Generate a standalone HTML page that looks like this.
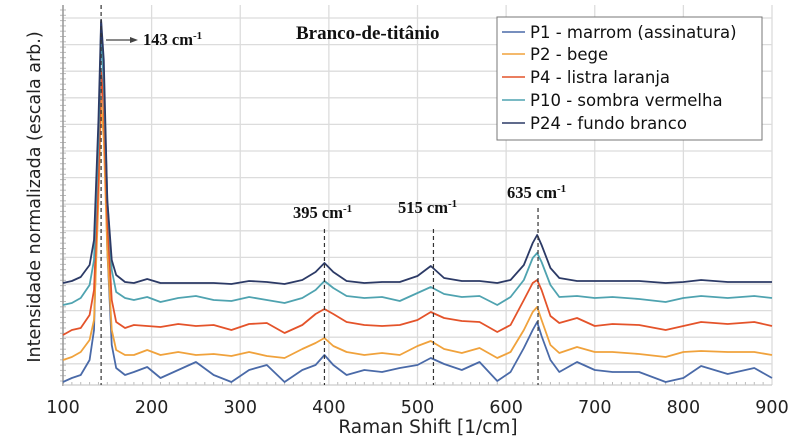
<!DOCTYPE html>
<html><head><meta charset="utf-8"><style>
body{margin:0;background:#fff;width:800px;height:437px;overflow:hidden}
svg{display:block}
.tk{font-family:"DejaVu Sans","Liberation Sans",sans-serif;font-size:17.5px;fill:#222}
.an{font-family:"Liberation Serif",serif;font-weight:bold;font-size:16.5px;fill:#111}
.lg{font-family:"DejaVu Sans","Liberation Sans",sans-serif;font-size:16.5px;fill:#111}
</style></head><body>
<svg id="chart" width="800" height="437"></svg>
<script>
const xs=[100,110,120,130,135,140,143,146,150,155,160,170,180,195,210,230,250,270,290,310,330,350,370,385,395,405,420,440,460,480,500,515,530,550,570,590,605,620,630,635,640,650,660,680,700,720,750,780,800,820,850,880,900];
const p24=[102,104,108,120,145,265,365,325,185,125,110,103,102,106,102,102,102,102,101,104,103,101,105,113,122,113,104,102,103,103,109,119,107,104,104,102,105,120,142,150,140,117,107,104,104,104,104,102,103,105,103,103,103];
const p10=[80,82,87,100,125,245,355,305,185,115,93,87,85,88,83,87,89,85,84,88,85,82,87,95,104,97,89,87,88,84,92,98,91,88,89,80,88,105,127,132,123,100,88,89,87,88,86,83,87,89,87,89,87];
const p4=[50,55,57,70,95,205,313,275,165,85,63,57,60,59,58,61,59,60,55,61,62,52,60,71,76,71,63,60,59,60,65,73,67,64,63,53,60,85,102,105,95,69,62,67,59,61,60,55,59,63,61,63,59];
const p2=[25,28,33,45,65,185,285,245,135,55,35,30,30,35,30,33,30,31,29,33,29,27,36,42,47,39,33,30,32,30,39,44,36,32,37,27,33,55,73,78,65,40,32,38,33,33,31,28,33,34,33,33,30];
const p1=[3,7,10,25,55,225,363,295,135,40,17,10,13,18,7,15,23,10,3,15,20,3,15,20,30,20,10,15,13,17,20,27,21,15,23,4,13,37,55,63,49,25,13,23,15,13,13,3,7,19,11,17,7];
const xTicks=[100,200,300,400,500,600,700,800,900];
const peakXs=[143,395,518,636];
const names=["P1 - marrom (assinatura)","P2 - bege","P4 - listra laranja","P10 - sombra vermelha","P24 - fundo branco"];
const colors=["#4a6aa8","#f0a23c","#e4532a","#4fa3b0","#2c3a66"];
const series=[p1,p2,p4,p10,p24];
const NS="http://www.w3.org/2000/svg";
const svg=document.getElementById('chart');
const X=v=>63+(v-100)*(772-63)/800;
const Y=v=>385-v;
function el(t,a,p){const e=document.createElementNS(NS,t);for(const k in a)e.setAttribute(k,a[k]);(p||svg).appendChild(e);return e;}
for(let i=0;i<14;i++){const y=18+i*26.6;const g=el('line',{x1:63,x2:772,y1:y,y2:y,stroke:'#dcdcdc','stroke-width':1.3});

}
xTicks.forEach(t=>{const g=el('line',{x1:X(t),x2:X(t),y1:5,y2:385,stroke:'#dcdcdc','stroke-width':1.3});


const tx=el('text',{x:X(t),y:413,'text-anchor':'middle',class:'tk'});tx.textContent=t;

});
for(let v=110;v<900;v+=10){if(v%100)el('line',{x1:X(v),x2:X(v),y1:385,y2:382,stroke:'#bbb'});}
for(let y=10;y<385;y+=5.3)el('line',{x1:60,x2:66,y1:y,y2:y,stroke:'#bbb'});
const ax=el('line',{x1:63,x2:63,y1:5,y2:386,stroke:'#999','stroke-width':1.5});


const bx=el('line',{x1:63,x2:772,y1:385,y2:385,stroke:'#ccc','stroke-width':1.3});


series.forEach((s,i)=>{const p=el('polyline',{points:s.map((v,j)=>X(xs[j])+','+Y(v)).join(' '),fill:'none',stroke:colors[i],'stroke-width':1.8,'stroke-linejoin':'round'});

});
const tops=[5,229,229,208];
peakXs.forEach((v,i)=>{const d=el('line',{x1:X(v),x2:X(v),y1:tops[i],y2:385,stroke:'#333','stroke-width':1.2,'stroke-dasharray':'4,3'});

});
</script>
<svg width="800" height="437" style="position:absolute;left:0;top:0">
<line x1="106" y1="40" x2="132" y2="40" stroke="#444" stroke-width="1.2"/>
<polygon points="138,40 130,37 130,43" fill="#444"/>
<text class="an" x="143" y="45">143 cm<tspan dy="-6" style="font-size:11px">-1</tspan></text>
<text class="an" x="293" y="218">395 cm<tspan dy="-6" style="font-size:11px">-1</tspan></text>
<text class="an" x="398" y="213">515 cm<tspan dy="-6" style="font-size:11px">-1</tspan></text>
<text class="an" x="507" y="198">635 cm<tspan dy="-6" style="font-size:11px">-1</tspan></text>
<text class="an" x="296" y="39" style="font-size:19px">Branco-de-titânio</text>
<text class="tk" transform="translate(40,197) rotate(-90)" text-anchor="middle" style="font-size:17.5px">Intensidade normalizada (escala arb.)</text>
<text class="tk" x="428" y="433" text-anchor="middle" style="font-size:18.5px">Raman Shift [1/cm]</text>
<g>
<rect x="497" y="17" width="265" height="123" fill="#fff" stroke="#777" stroke-width="1"/>
<g><line x1="502" x2="525" y1="32" y2="32" stroke="#4a6aa8" stroke-width="1.5"/><text class="lg" x="530" y="38">P1 - marrom (assinatura)</text></g>
<g><line x1="502" x2="525" y1="54" y2="54" stroke="#f0a23c" stroke-width="1.5"/><text class="lg" x="530" y="60">P2 - bege</text></g>
<g><line x1="502" x2="525" y1="77" y2="77" stroke="#e4532a" stroke-width="1.5"/><text class="lg" x="530" y="83">P4 - listra laranja</text></g>
<g><line x1="502" x2="525" y1="100" y2="100" stroke="#4fa3b0" stroke-width="1.5"/><text class="lg" x="530" y="106">P10 - sombra vermelha</text></g>
<g><line x1="502" x2="525" y1="123" y2="123" stroke="#2c3a66" stroke-width="1.5"/><text class="lg" x="530" y="129">P24 - fundo branco</text></g>
</g>
</svg>
</body></html>
